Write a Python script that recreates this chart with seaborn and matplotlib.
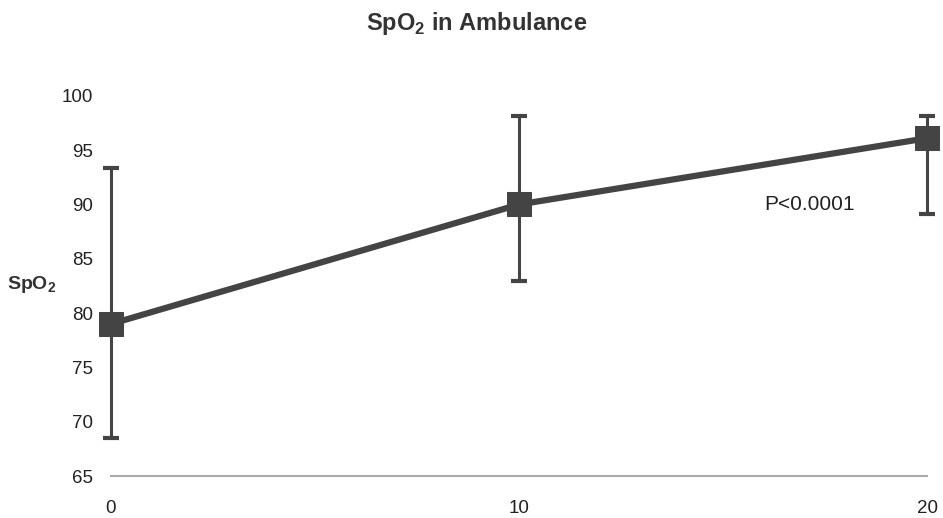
import matplotlib
matplotlib.use('Agg')
import matplotlib.pyplot as plt
import seaborn as sns
import pandas as pd

# values
minutes = [0, 10, 20]
spo2_mean = [79.0, 90.0, 96.1]
spo2_low = [68.5, 83.0, 89.1]
spo2_high = [93.4, 98.1, 98.1]
y_ticks = [65, 70, 75, 80, 85, 90, 95, 100]

sns.set_style('white')
plt.rcParams['font.family'] = ['Liberation Sans', 'DejaVu Sans']

df = pd.DataFrame({'time': minutes, 'spo2': spo2_mean})
col = '#444444'

fig = plt.figure(figsize=(9.43, 5.18), dpi=100)
ax = fig.add_axes([0.1177, 0.081, 0.8655, 0.734])

yerr = [[m - lo for m, lo in zip(spo2_mean, spo2_low)],
        [hi - m for m, hi in zip(spo2_mean, spo2_high)]]
ax.errorbar(minutes, spo2_mean, yerr=yerr, fmt='none', ecolor=col,
            elinewidth=2.2, capsize=6, capthick=3, clip_on=False, zorder=2)
sns.lineplot(data=df, x='time', y='spo2', ax=ax, color=col, linewidth=4.5,
             marker='s', markersize=17, markeredgecolor=col, clip_on=False, zorder=3)

ax.set_xlim(0, 20)
ax.set_ylim(65, 100)
ax.set_xticks(minutes)
ax.set_yticks(y_ticks)
ax.tick_params(axis='x', length=4, color='#999999', labelsize=13.5, pad=13, labelcolor='#222222')
ax.tick_params(axis='y', length=0, labelsize=13.5, pad=13, labelcolor='#222222')
ax.set_xlabel('')
ax.set_ylabel('')
for s in ['left', 'right', 'top']:
    ax.spines[s].set_visible(False)
ax.spines['bottom'].set_color('#aaaaaa')
ax.spines['bottom'].set_linewidth(1.5)

ax.text(16, 90, 'P<0.0001', fontsize=15, color='#222222', va='center', ha='left')

fig.text(0.505, 0.955, 'SpO$_\\mathregular{2}$ in Ambulance', ha='center', va='center',
         fontsize=17, fontweight='bold', color='#333333')
fig.text(0.007, 0.45, 'SpO$_\\mathregular{2}$', ha='left', va='center',
         fontsize=14, fontweight='bold', color='#333333')

fig.savefig('out.png', dpi=100)
